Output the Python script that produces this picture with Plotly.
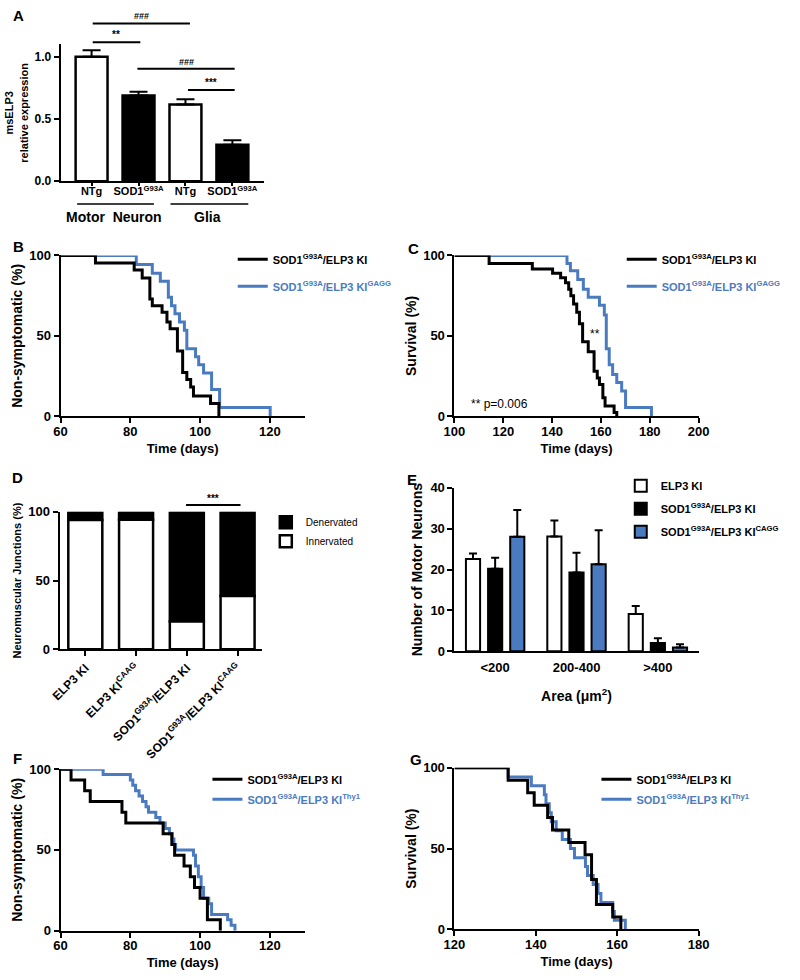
import plotly.graph_objects as go

BLUE = "#4a7bc1"
FONT = "Liberation Sans, Arial, sans-serif"
W, H = 800, 980

# ---------------- data ----------------
# Panel A
a_labels = ["NTg", "SOD1<sup>G93A</sup>", "NTg", "SOD1<sup>G93A</sup>"]
a_expr = [1.00, 0.69, 0.617, 0.294]
a_sem = [0.053, 0.03, 0.043, 0.036]

# Panel B (onset, Kaplan-Meier)
b_ki_days = [60, 70, 81.1, 83.4, 85.6, 86.3, 89.1, 90.5, 91.4, 93.5, 95, 96.2, 97.3, 98.1, 103, 105.4]
b_ki_pct = [100, 95.3, 91, 86, 72.9, 68.8, 64.7, 58.6, 54.5, 40.6, 27.3, 22.9, 18.2, 12.7, 8.0, 0]
b_cagg_days = [60, 81.7, 86.3, 88.6, 90.9, 91.8, 92.8, 94.1, 95.5, 96.2, 98.7, 99.6, 101, 103.3, 105.6, 120.1]
b_cagg_pct = [100, 94.4, 89, 84, 74, 68.8, 63.7, 58.6, 53.5, 42, 37, 32, 27, 16.7, 5.5, 0]

# Panel C (survival)
c_ki_days = [100, 114.2, 131.9, 140.2, 143.5, 145.5, 146.8, 147.7, 148.8, 150.1, 151.2, 152.5, 154.8,
             157.2, 158.5, 159.4, 160.8, 161.7, 165.4, 166.5]
c_ki_pct = [100, 95, 91.5, 89, 86.1, 83.1, 79, 74.9, 69.8, 64.7, 57.6, 46.3, 40.2, 28, 23.9, 19.8,
            11.6, 6.5, 2.4, 0]
c_cagg_days = [100, 146.1, 147.5, 150.5, 152.8, 154.8, 159.4, 161.4, 162.2, 163.4, 164.8, 166.5,
               168.5, 170.1, 180.7]
c_cagg_pct = [100, 95, 90.5, 85, 79, 74, 69, 63, 42, 32, 26, 21, 15.7, 5.5, 0]

# Panel D (NMJ)
d_groups = ["ELP3 KI", "ELP3 KI<sup>CAAG</sup>", "SOD1<sup>G93A</sup>/ELP3 KI",
            "SOD1<sup>G93A</sup>/ELP3 KI<sup>CAAG</sup>"]
d_innervated = [94, 94.3, 20.3, 38.7]
d_denervated = [6, 5.7, 79.7, 61.3]

# Panel E (motor neuron counts)
e_bins = ["<200", "200-400", ">400"]
e_elp3 = [22.6, 28.1, 9.1]
e_elp3_sem = [1.3, 3.9, 2.0]
e_sod = [20.2, 19.3, 2.0]
e_sod_sem = [2.7, 4.8, 1.2]
e_cagg = [28.0, 21.3, 0.9]
e_cagg_sem = [6.6, 8.3, 0.8]

# Panel F (onset, Thy1)
f_ki_days = [60, 63, 66.9, 68.5, 77.6, 78.7, 89.4, 91.9, 92.7, 95.4, 97.2, 98.4, 100, 102.1, 105.8]
f_ki_pct = [100, 93.3, 86.7, 80, 73.3, 66.7, 60, 53.3, 46.7, 40, 33.3, 26.7, 20, 6.7, 0]
f_thy_days = [60, 72.2, 80, 80.7, 81.5, 82.5, 83.5, 84.5, 85.2, 87.3, 88.5, 90, 91.2, 92, 92.5, 93,
              98.1, 98.7, 99.5, 100.3, 101, 102.5, 103.3, 107.9, 108.9, 110]
f_thy_pct = [100, 96.7, 93.3, 90, 86.7, 83.3, 80, 76.7, 73.3, 70, 66.7, 63.3, 60, 56.7, 53.3, 50,
             46.7, 40, 33.3, 26.7, 20, 16.7, 10, 6.7, 3.3, 0]

# Panel G (survival, Thy1)
g_ki_days = [120, 133.2, 138, 139.6, 142.9, 144.1, 148.1, 152.1, 153.7, 154.9, 158.9, 160.9]
g_ki_pct = [100, 92.3, 84.6, 76.9, 69.2, 61.5, 53.8, 46.2, 30.8, 15.4, 7.7, 0]
g_thy_days = [120, 133.2, 138.9, 142.1, 142.5, 143.3, 143.8, 145, 146.5, 148.5, 149.5, 152.2, 152.7,
              154.1, 155.3, 156, 158.9, 159.3, 162]
g_thy_pct = [100, 94.4, 88.9, 83.3, 77.8, 72.2, 66.7, 61.1, 55.6, 50, 44.4, 38.9, 33.3, 27.8, 22.2,
             16.7, 11.1, 5.6, 0]

LBL_KI = "SOD1<sup>G93A</sup>/ELP3 KI"


def blue_txt(s):
    return "<span style='color:%s'>%s</span>" % (BLUE, s)


# ---------------- helpers ----------------
def dx(x0, x1):
    return [x0 / W, x1 / W]


def dy(top, bottom):
    return [1 - bottom / H, 1 - top / H]


def px(x):
    return x / W


def py(y):
    return 1 - y / H


def f(size, bold=True, color="black"):
    return dict(family=FONT, size=size, color=color, weight="bold" if bold else "normal")


def axis(**kw):
    base = dict(showline=True, linewidth=2, linecolor="black", showgrid=False, zeroline=False,
                ticks="outside", ticklen=5, tickwidth=2, tickcolor="black", tickfont=f(13),
                fixedrange=True, layer="above traces")
    base.update(kw)
    return base


def xaxis(**kw):
    base = dict(ticklabelstandoff=-3)
    base.update(kw)
    return axis(**base)


fig = go.Figure()

# ---------------- Panel A ----------------
a_idx = list(range(len(a_expr)))
fig.add_trace(go.Bar(
    x=a_idx, y=a_expr, width=0.68, xaxis="x", yaxis="y", showlegend=False,
    marker=dict(color=["white", "black", "white", "black"], line=dict(color="black", width=2.5)),
    error_y=dict(type="data", array=a_sem, arrayminus=[0] * len(a_sem), symmetric=False,
                 color="black", thickness=2, width=9),
))


# ---------------- Kaplan-Meier helper ----------------
def km(days, pct, color, name, xa, ya, leg, rank):
    fig.add_trace(go.Scatter(
        x=days, y=pct, mode="lines", line=dict(shape="hv", color=color, width=3),
        name=name, xaxis=xa, yaxis=ya, legend=leg, legendrank=rank, legendgroup=leg + str(rank),
        cliponaxis=False,
    ))


# B
km(b_cagg_days, b_cagg_pct, BLUE, blue_txt(LBL_KI + "<sup>GAGG</sup>"), "x2", "y2", "legend", 2)
km(b_ki_days, b_ki_pct, "black", LBL_KI, "x2", "y2", "legend", 1)
# C
km(c_cagg_days, c_cagg_pct, BLUE, blue_txt(LBL_KI + "<sup>GAGG</sup>"), "x3", "y3", "legend2", 2)
km(c_ki_days, c_ki_pct, "black", LBL_KI, "x3", "y3", "legend2", 1)

# ---------------- Panel D ----------------
d_idx = list(range(len(d_groups)))
fig.add_trace(go.Bar(
    x=d_idx, y=d_denervated, base=d_innervated, width=0.67, xaxis="x4", yaxis="y4",
    name="Denervated", legend="legend3", legendgroup="den", legendrank=1,
    marker=dict(color="black", line=dict(color="black", width=2.5)),
))
fig.add_trace(go.Bar(
    x=d_idx, y=d_innervated, width=0.67, xaxis="x4", yaxis="y4",
    name="Innervated", legend="legend3", legendgroup="inn", legendrank=2,
    marker=dict(color="white", line=dict(color="black", width=2.5)),
))

# ---------------- Panel E ----------------
e_series = [
    (e_elp3, e_elp3_sem, "white", "ELP3 KI", -0.359),
    (e_sod, e_sod_sem, "black", LBL_KI, -0.087),
    (e_cagg, e_cagg_sem, BLUE, LBL_KI + "<sup>CAGG</sup>", 0.185),
]
for i, (vals, sem, col, nm, off) in enumerate(e_series):
    fig.add_trace(go.Bar(
        x=e_bins, y=vals, width=0.174, offset=off, xaxis="x5", yaxis="y5",
        name=nm, legend="legend4", legendgroup="e%d" % i, legendrank=i + 1,
        marker=dict(color=col, line=dict(color="black", width=2)),
        error_y=dict(type="data", array=sem, arrayminus=[0] * len(sem), symmetric=False,
                     color="black", thickness=2, width=4),
    ))

# F
km(f_thy_days, f_thy_pct, BLUE, blue_txt(LBL_KI + "<sup>Thy1</sup>"), "x6", "y6", "legend5", 2)
km(f_ki_days, f_ki_pct, "black", LBL_KI, "x6", "y6", "legend5", 1)
# G
km(g_thy_days, g_thy_pct, BLUE, blue_txt(LBL_KI + "<sup>Thy1</sup>"), "x7", "y7", "legend6", 2)
km(g_ki_days, g_ki_pct, "black", LBL_KI, "x7", "y7", "legend6", 1)

# ---------------- axes ----------------
time_title = dict(text="Time (days)", font=f(13), standoff=6)
layout_axes = dict(
    # A
    xaxis=xaxis(domain=dx(51, 260), range=[-0.66, 3.67], tickmode="array", tickvals=a_idx,
                ticktext=a_labels, tickfont=f(11), ticklen=3, ticklabelstandoff=-4, anchor="y"),
    yaxis=axis(domain=dy(38, 177), range=[0, 1.1], tickvals=[0, 0.5, 1.0], ticktext=["0.0", "0.5", "1.0"],
               tickfont=f(12), anchor="x",
               title=dict(text="msELP3<br>relative expression", font=f(11), standoff=4)),
    # B
    xaxis2=xaxis(domain=dx(51, 302), range=[60, 130], tickvals=[60, 80, 100, 120], anchor="y2",
                 title=time_title),
    yaxis2=axis(domain=dy(252.3, 415.7), range=[0, 100], tickvals=[0, 50, 100], anchor="x2",
                title=dict(text="Non-symptomatic (%)", font=f(14), standoff=3)),
    # C
    xaxis3=xaxis(domain=dx(456, 707), range=[100, 200], tickvals=[100, 120, 140, 160, 180, 200],
                 anchor="y3", title=time_title),
    yaxis3=axis(domain=dy(252.3, 415.7), range=[0, 100], tickvals=[0, 50, 100], anchor="x3",
                title=dict(text="Survival (%)", font=f(14), standoff=3)),
    # D
    xaxis4=axis(domain=dx(50, 258), range=[-0.506, 3.479], tickmode="array", tickvals=d_idx,
                ticktext=d_groups, tickangle=-45, tickfont=f(12), anchor="y4"),
    yaxis4=axis(domain=dy(512.7, 652.3), range=[0, 100], tickvals=[0, 50, 100], anchor="x4",
                title=dict(text="Neuromuscular Junctions (%)", font=f(11), standoff=4)),
    # E
    xaxis5=xaxis(domain=dx(456, 707), range=[-0.5, 2.5], ticks="", tickfont=f(13), anchor="y5",
                 ticklabelstandoff=3,
                 title=dict(text="Area (\u03bcm<sup>2</sup>)", font=f(14), standoff=17)),
    yaxis5=axis(domain=dy(488.3, 654.3), range=[0, 40], tickvals=[0, 10, 20, 30, 40], anchor="x5",
                title=dict(text="Number of Motor Neurons", font=f(14), standoff=4)),
    # F
    xaxis6=xaxis(domain=dx(51, 302), range=[60, 130], tickvals=[60, 80, 100, 120], anchor="y6",
                 title=time_title),
    yaxis6=axis(domain=dy(774, 938), range=[0, 100], tickvals=[0, 50, 100], anchor="x6",
                title=dict(text="Non-symptomatic (%)", font=f(14), standoff=3)),
    # G
    xaxis7=xaxis(domain=dx(456, 707), range=[120, 180], tickvals=[120, 140, 160, 180], anchor="y7",
                 title=time_title),
    yaxis7=axis(domain=dy(772.7, 936.7), range=[0, 100], tickvals=[0, 50, 100], anchor="x7",
                title=dict(text="Survival (%)", font=f(14), standoff=3)),
)


def leg(text_x, first_y, spacing, size=11, bold=True):
    return dict(x=px(text_x - 40), y=py(first_y - 14.5), xanchor="left", yanchor="top",
                bgcolor="rgba(0,0,0,0)", borderwidth=0, font=f(size, bold),
                tracegroupgap=max(spacing - 19, 0), itemwidth=30, traceorder="grouped")


legends = dict(
    legend=leg(268, 256, 27),
    legend2=leg(668, 256, 27),
    legend3=leg(302, 523, 19, size=10, bold=False),
    legend4=leg(667, 486, 23),
    legend5=leg(242, 784, 20),
    legend6=leg(642, 784, 20),
)

# ---------------- annotations / shapes ----------------
shapes = []
annotations = []


def hline(x0, x1, y, width=2):
    shapes.append(dict(type="line", xref="paper", yref="paper", x0=px(x0), x1=px(x1), y0=py(y), y1=py(y),
                       line=dict(color="black", width=width)))


def text(x, y, s, size, bold=True, xanchor="center"):
    annotations.append(dict(x=px(x), y=py(y), xref="paper", yref="paper", text=s, showarrow=False,
                            xanchor=xanchor, yanchor="middle", font=f(size, bold)))


# A significance bars and group labels
hline(84, 184, 16.7); text(134, 9, "###", 9)
hline(84, 133, 35.7); text(108, 28, "**", 10)
hline(130, 230, 62.7); text(180, 56, "###", 9)
hline(182, 230, 84.3); text(206, 77, "***", 10)
hline(68, 147, 200, 1.5); hline(164, 244, 200, 1.5)
text(106, 213.5, "Motor  Neuron", 14)
text(202, 213.5, "Glia", 14)

# C
text(601, 332, "**", 12, bold=False)
text(471, 403, "** p=0.006", 12, bold=False, xanchor="left")

# D
hline(180, 236, 505.7); text(208, 499, "***", 10)

# panel letters
for lt, x, y in [("A", 8, 9), ("B", 8, 243), ("C", 414, 245), ("D", 7, 478), ("E", 412, 480),
                 ("F", 7, 763), ("G", 416, 764)]:
    text(x, y, lt, 15)

fig.update_layout(
    width=W, height=H, margin=dict(l=0, r=0, t=0, b=0),
    paper_bgcolor="white", plot_bgcolor="white", barmode="overlay",
    font=f(12), shapes=shapes, annotations=annotations,
    **layout_axes, **legends,
)

fig.write_html("out.html", config={"displayModeBar": False},
               post_script="document.body.style.margin='0';document.body.style.overflow='hidden';")
